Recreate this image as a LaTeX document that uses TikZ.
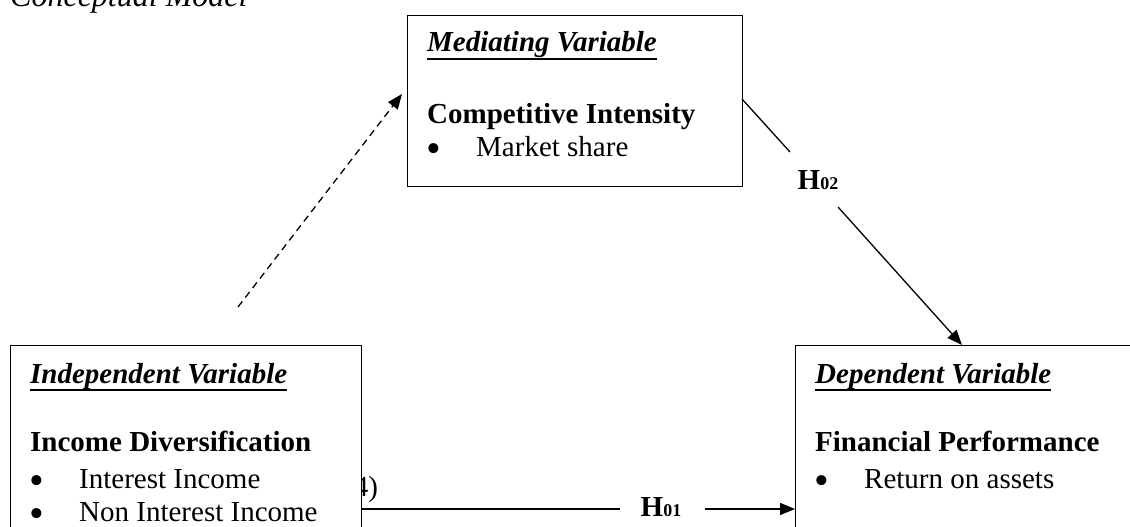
\documentclass[tikz,border=0pt]{standalone}
\usepackage{fontspec}
\setmainfont{Liberation Serif}
\usetikzlibrary{arrows.meta}
\begin{document}
\begin{tikzpicture}[x=1pt,y=-1pt,
  box/.style={draw, line width=1.3pt, fill=white, inner sep=0pt, anchor=north west},
  txt/.style={anchor=base west, inner sep=0pt, font=\fontsize{29}{35}\selectfont},
  bul/.style={anchor=base west, inner sep=0pt, text height=20pt, text depth=0pt, font=\fontsize{42}{42}\selectfont},
  hd/.style={txt, font=\fontsize{29}{35}\selectfont\bfseries\itshape},
  uline/.style={line width=1.6pt},
  link/.style={line width=1.3pt},
  tip/.style={-{Triangle[length=15pt,width=12pt]}},
  hlab/.style={anchor=base, inner sep=0pt, font=\fontsize{29}{35}\selectfont\bfseries},
]
\useasboundingbox (0,0) rectangle (1130,527);
\clip (0,0) rectangle (1130,527);

% title
\node[anchor=base west, inner sep=0pt, font=\fontsize{32}{38}\selectfont\itshape] (title) at (10,7) {Conceptual Model};

% partly hidden text
\node[txt] (four) at (344,496) {(4)};

% boxes
\node[box, minimum width=335pt, minimum height=171pt] (med) at (407,15) {};
\node[box, minimum width=351pt, minimum height=250pt] (ind) at (10,345) {};
\node[box, minimum width=400pt, minimum height=250pt] (dep) at (795,345) {};

% mediating
\node[hd] (medt) at (427,52) {Mediating Variable};
\draw[uline] ([yshift=-7pt]medt.base west) -- ([yshift=-7pt]medt.base east);
\node[txt] (medn) at (427,123) {\bfseries Competitive Intensity};
\node[bul] (medb) at (426,162) {•};
\node[txt] (medi) at (476,156) {Market share};

% independent
\node[hd] (indt) at (30,383) {Independent Variable};
\draw[uline] ([yshift=-7pt]indt.base west) -- ([yshift=-7pt]indt.base east);
\node[txt] (indn) at (30,451) {\bfseries Income Diversification};
\node[bul] (indb1) at (29,494) {•};
\node[txt] (indi1) at (79,488) {Interest Income};
\node[bul] (indb2) at (29,527) {•};
\node[txt] (indi2) at (79,521) {Non Interest Income};

% dependent
\node[hd] (dept) at (815,383) {Dependent Variable};
\draw[uline] ([yshift=-7pt]dept.base west) -- ([yshift=-7pt]dept.base east);
\node[txt] (depn) at (815,451) {\bfseries Financial Performance};
\node[bul] (depb) at (814,494) {•};
\node[txt] (depi) at (864,488) {Return on assets};

% H labels
\node[hlab] (h02) at (818,189) {H{\fontsize{18}{20}\selectfont 02}};
\node[hlab] (h01) at (661,516) {H{\fontsize{18}{20}\selectfont 01}};

% connectors
\coordinate (ds) at (238,307);
\coordinate (de) at (402,94);
\draw[link, tip, dash pattern=on 7pt off 5pt] (ds) -- (de);

\coordinate (m1) at (742,99);
\coordinate (m2) at (790,152);
\coordinate (m3) at (838,207);
\coordinate (dt) at (962,345);
\draw[link] (m1) -- (m2);
\draw[link, tip] (m3) -- (dt);

\coordinate (i1) at (361,509);
\coordinate (i2) at (620,509);
\coordinate (i3) at (705,509);
\coordinate (dl) at (795,509);
\draw[link] (i1) -- (i2);
\draw[link, tip] (i3) -- (dl);
\end{tikzpicture}
\end{document}
